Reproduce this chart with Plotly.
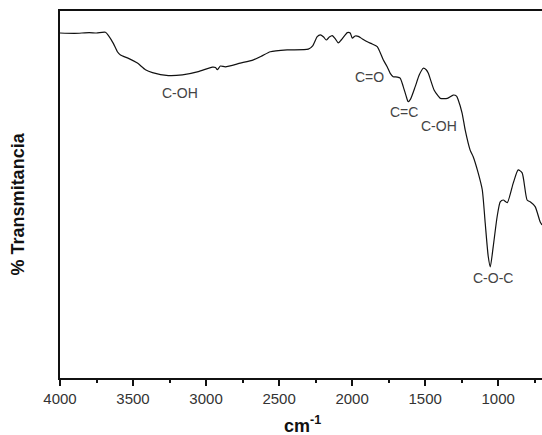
import plotly.graph_objects as go

# FTIR spectrum: wavenumber (cm-1) and relative transmittance
wavenumber = [4000, 3900, 3800, 3750, 3689, 3668, 3634, 3607, 3586, 3531, 3470, 3415,
              3367, 3258, 3162, 3053, 2957, 2935, 2923, 2902, 2868, 2766, 2676, 2620,
              2560, 2444, 2300, 2270, 2239, 2218, 2195, 2177, 2156, 2136, 2115, 2095,
              2075, 2047, 2033, 2013, 1999, 1979, 1958, 1930, 1896, 1862, 1828, 1787,
              1760, 1739, 1719, 1690, 1671, 1650, 1630, 1616, 1600, 1568, 1540, 1513,
              1493, 1479, 1439, 1410, 1396, 1348, 1308, 1285, 1274, 1247, 1226, 1192,
              1171, 1137, 1109, 1089, 1068, 1054, 1034, 1007, 986, 965, 938, 897, 863,
              836, 802, 781, 747, 713, 700]
transmittance = [94.0, 93.9, 94.1, 94.0, 94.2, 93.3, 91.1, 88.9, 88.0, 87.1, 85.8, 84.0,
                 83.2, 82.4, 82.6, 83.5, 84.7, 84.6, 84.0, 85.0, 84.8, 85.8, 86.7, 87.7,
                 88.9, 89.4, 89.6, 90.5, 93.0, 93.5, 92.9, 92.1, 92.9, 93.3, 92.4, 91.3,
                 92.1, 93.5, 94.1, 94.0, 92.6, 93.2, 93.1, 92.4, 91.6, 91.0, 90.3, 86.7,
                 84.8, 83.0, 82.1, 82.0, 81.7, 79.4, 76.8, 75.3, 76.0, 79.4, 82.6, 84.4,
                 84.0, 83.1, 78.5, 76.8, 76.2, 76.2, 77.1, 76.8, 75.8, 72.2, 67.6, 62.1,
                 60.3, 55.9, 51.3, 42.3, 33.1, 30.3, 35.8, 44.0, 48.0, 48.5, 47.8, 53.1,
                 56.7, 55.9, 48.5, 48.0, 46.7, 42.6, 41.7]

# Band assignments: label, wavenumber, transmittance position
band_labels = ["C-OH", "C=O", "C=C", "C-OH", "C-O-C"]
band_x = [3176, 1883, 1643, 1404, 1035]
band_y = [77.7, 82.0, 72.5, 68.7, 27.3]

fig = go.Figure()
fig.add_trace(go.Scatter(
    x=wavenumber, y=transmittance, mode="lines",
    line=dict(color="#111111", width=1.2, shape="spline", smoothing=0.6),
    showlegend=False, hoverinfo="x+y",
))

for lab, bx, by in zip(band_labels, band_x, band_y):
    fig.add_annotation(x=bx, y=by, text=lab, showarrow=False,
                       font=dict(family="Liberation Sans, Arial, sans-serif",
                                 size=14, color="#444444"),
                       xanchor="center", yanchor="middle")

# Axis titles
fig.add_annotation(xref="paper", yref="paper", x=0, y=0.473, xshift=-42,
                   text="<b>% Transmitancia</b>", textangle=-90, showarrow=False,
                   font=dict(family="Liberation Sans, Arial, sans-serif", size=18,
                             color="#111111"),
                   xanchor="center", yanchor="middle")
fig.add_annotation(xref="paper", yref="paper", x=0.504, y=0, yshift=-46,
                   text="<b>cm<sup>-1</sup></b>", showarrow=False,
                   font=dict(family="Liberation Sans, Arial, sans-serif", size=18,
                             color="#111111"),
                   xanchor="center", yanchor="middle")

fig.update_layout(
    width=542, height=435,
    margin=dict(l=60, r=0, t=11, b=57),
    paper_bgcolor="white", plot_bgcolor="white",
    font=dict(family="Liberation Sans, Arial, sans-serif", size=15, color="#333333"),
    xaxis=dict(
        range=[4000, 700], tickmode="array",
        tickvals=[4000, 3500, 3000, 2500, 2000, 1500, 1000],
        ticks="outside", ticklen=6, tickwidth=1.5, tickcolor="#111111",
        minor=dict(dtick=250, tick0=0, ticks="outside", ticklen=3, tickwidth=1.5,
                   tickcolor="#111111"),
        showline=True, linecolor="#111111", linewidth=1.5, mirror=True,
        showgrid=False, zeroline=False,
        tickfont=dict(size=15, color="#333333"),
    ),
    yaxis=dict(
        range=[0, 100], showticklabels=False, ticks="",
        showline=True, linecolor="#111111", linewidth=1.5, mirror=False,
        showgrid=False, zeroline=False,
    ),
)

fig.write_html("out.html")
